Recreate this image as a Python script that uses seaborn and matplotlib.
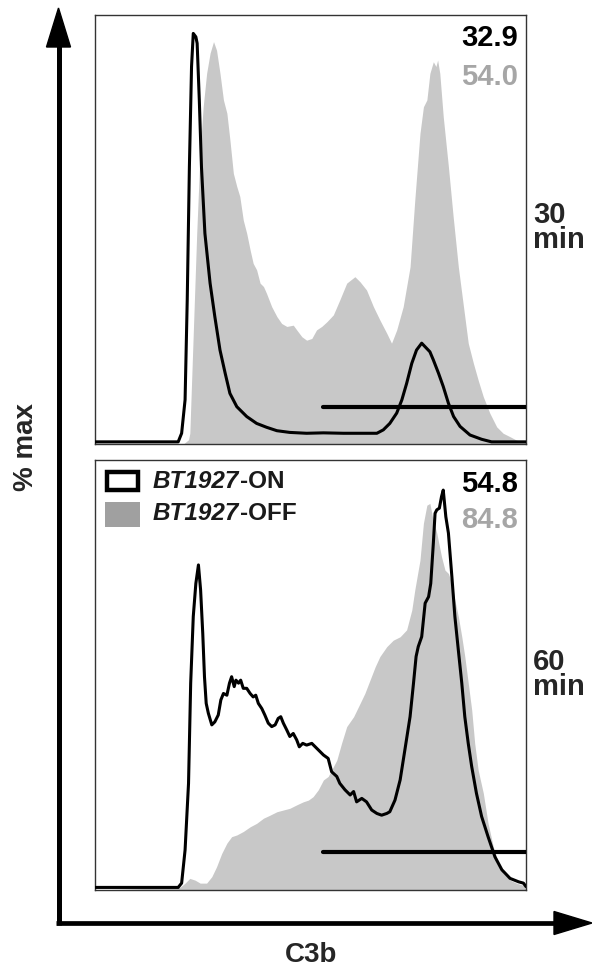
import numpy as np
import pandas as pd
import matplotlib
matplotlib.use("Agg")
import matplotlib.pyplot as plt
from matplotlib.patches import Polygon, Rectangle
import seaborn as sns

# ---------------- data (x: C3b, % of axis range; y: % max) ----------------
on30_x = [0, 19.3, 20.1, 20.9, 21.4, 21.9, 22.4, 22.8, 23.4, 23.7, 24.2, 24.7, 25.5, 26.7, 27.8,
          29.0, 30.2, 31.3, 32.9, 35.2, 37.5, 39.8, 42.2, 45.2, 49.1, 53.0, 57.6, 65.4, 66.9,
          68.4, 70.0, 71.2, 72.3, 73.5, 74.6, 75.8, 77.7, 78.5, 79.7, 80.8, 82.0, 83.2, 84.7,
          87.0, 89.7, 92.0, 100]
on30_y = [0.5, 0.5, 2.5, 10.3, 33.6, 64.6, 88.0, 95.7, 94.9, 93.4, 80.2, 64.6, 49.1, 37.5, 29.7,
          21.9, 16.5, 11.8, 8.7, 6.4, 4.8, 3.9, 3.1, 2.7, 2.5, 2.6, 2.5, 2.5, 3.3,
          4.8, 7.2, 10.3, 14.1, 18.8, 21.9, 23.5, 21.5, 19.6, 16.5, 13.4, 9.5, 6.4, 4.1,
          2.1, 1.1, 0.5, 0.5]

off30_x = [0, 20.5, 21.7, 22.0, 22.8, 23.6, 24.4, 25.1, 25.9, 26.7, 27.5, 28.2, 29.0, 29.8, 30.6,
           31.3, 32.1, 32.9, 33.6, 34.4, 35.2, 36.0, 36.7, 37.5, 38.3, 39.1, 39.8, 41.0, 42.2,
           43.3, 44.5, 46.0, 46.8, 48.0, 49.1, 50.3, 51.4, 52.6, 53.8, 55.3, 56.8, 58.4, 60.3,
           61.5, 63.0, 64.6, 66.1, 67.7, 68.8, 70.0, 71.5, 73.1, 74.2, 75.4, 76.2, 77.0, 77.7,
           78.5, 79.1, 79.5, 80.0, 80.8, 82.0, 83.1, 84.3, 85.5, 86.6, 87.8, 88.9, 90.1, 91.6,
           93.2, 94.7, 96.3, 97.8, 99.4, 100]
off30_y = [0, 0, 1.0, 2.5, 25.8, 49.1, 68.5, 78.6, 86.4, 91.1, 93.8, 91.8, 86.4, 80.2, 77.1,
           70.9, 63.1, 60.0, 57.7, 52.2, 49.1, 45.2, 42.1, 40.6, 37.5, 36.7, 35.1, 32.0, 29.7,
           28.1, 27.4, 27.7, 26.6, 25.0, 24.2, 24.6, 26.6, 27.4, 28.5, 30.1, 33.6, 37.5, 39.0,
           37.8, 35.9, 32.0, 28.9, 25.8, 23.5, 26.6, 32.0, 41.3, 56.9, 72.4, 78.6, 80.2, 86.4,
           89.1, 88.0, 89.5, 86.4, 76.3, 64.6, 53.0, 41.3, 32.0, 23.5, 18.8, 14.9, 11.0, 7.2,
           4.0, 2.5, 1.7, 0.9, 0.5, 0.3]

on60_x = [0, 19.3, 20.1, 20.9, 21.7, 22.2, 22.8, 23.4, 24.0, 24.5, 25.0, 25.4, 25.8, 26.3, 27.1,
          27.8, 28.6, 29.2, 29.8, 30.6, 31.2, 31.7, 32.3, 32.7, 33.3, 33.8, 34.4, 35.2, 36.0,
          36.7, 37.3, 37.9, 38.7, 39.4, 40.2, 41.0, 41.8, 42.5, 43.1, 43.7, 44.5, 45.2, 46.0,
          46.8, 47.4, 48.2, 49.1, 50.3, 51.4, 53.0, 54.1, 54.9, 56.1, 56.8, 58.0, 59.2, 60.0,
          60.7, 61.9, 63.0, 64.2, 65.4, 66.5, 67.7, 68.4, 69.6, 70.8, 71.9, 73.1, 73.9, 74.5,
          75.0, 75.8, 76.6, 77.4, 77.9, 78.5, 78.9, 79.3, 79.9, 80.4, 80.8, 81.4, 82.0, 82.8,
          83.5, 84.3, 85.1, 85.8, 86.6, 87.4, 88.5, 89.7, 91.2, 92.8, 94.4, 96.3, 98.3, 99.4, 100]
on60_y = [0.6, 0.6, 1.6, 9.3, 24.8, 48.1, 63.6, 71.3, 75.6, 69.8, 59.7, 49.6, 43.4, 41.1, 38.4,
          39.1, 40.7, 44.2, 45.7, 45.3, 48.1, 49.6, 47.3, 48.8, 48.1, 48.8, 46.9, 46.9, 45.7,
          44.9, 45.3, 43.4, 42.2, 40.7, 38.8, 38.0, 38.4, 39.9, 40.3, 38.8, 37.2, 35.7, 36.4,
          34.9, 33.3, 34.1, 33.7, 34.1, 33.0, 31.4, 30.6, 27.5, 26.4, 24.8, 23.3, 22.1, 22.9,
          20.5, 21.3, 20.5, 18.6, 17.8, 17.4, 17.8, 18.2, 20.9, 25.6, 32.6, 40.3, 48.1, 54.3,
          56.6, 58.9, 66.7, 68.2, 71.3, 80.6, 87.6, 88.4, 88.8, 91.5, 93.0, 86.8, 83.0, 72.9,
          63.6, 55.8, 48.1, 40.3, 34.1, 28.7, 22.5, 17.1, 12.4, 7.7, 4.7, 2.7, 1.9, 1.6, 0.8]

off60_x = [0, 19.7, 20.9, 22.0, 23.2, 24.4, 25.9, 27.1, 28.2, 29.4, 30.6, 31.7, 32.9, 34.4, 36.0,
           37.5, 39.1, 40.6, 42.2, 43.7, 45.2, 46.8, 48.3, 49.5, 50.6, 51.8, 53.0, 54.1, 54.9,
           56.1, 57.2, 58.4, 60.0, 61.5, 62.6, 63.8, 65.0, 66.1, 67.7, 69.2, 70.8, 72.3, 73.5,
           74.2, 75.4, 76.2, 77.0, 77.7, 78.3, 79.3, 80.4, 81.2, 82.0, 82.8, 83.5, 84.3, 85.1,
           85.8, 86.6, 87.4, 88.1, 88.9, 90.1, 91.2, 92.4, 93.6, 94.7, 96.3, 97.8, 99.0, 100]
off60_y = [0, 0.6, 1.6, 2.7, 2.3, 1.6, 1.6, 3.1, 5.4, 8.5, 10.9, 12.4, 12.8, 13.6, 14.7,
           15.5, 16.7, 17.4, 18.2, 18.6, 19.0, 19.8, 20.5, 20.9, 21.7, 23.3, 25.6, 26.4, 27.9,
           30.2, 34.1, 38.0, 40.3, 43.4, 45.7, 48.8, 51.9, 54.3, 56.6, 58.1, 58.9, 60.5, 65.1,
           69.8, 76.7, 85.3, 89.5, 89.9, 86.8, 83.0, 77.5, 74.4, 73.6, 71.3, 67.4, 63.6, 58.9,
           54.3, 48.1, 41.9, 34.1, 27.9, 22.5, 15.5, 10.1, 6.2, 3.9, 2.3, 1.6, 1.2, 1.0]

gate_x = [[52.9, 100], [52.8, 100]]
gate_y = [8.6, 8.9]
pct_on = ["32.9", "54.8"]
pct_off = ["54.0", "84.8"]
times = ["30\nmin", "60\nmin"]
legend_labels = [("BT1927", "-ON"), ("BT1927", "-OFF")]

# ---------------- style ----------------
sns.set_theme(style="white")
plt.rcParams["font.family"] = ["Liberation Sans", "DejaVu Sans"]
plt.rcParams["font.weight"] = "bold"

W, H = 592, 968
fig = plt.figure(figsize=(W / 100, H / 100), dpi=100)

GRAY_FILL = "#c8c8c8"
GRAY_TXT = "#a6a6a6"

# panel boxes in pixel coords: (left, top, right, bottom)
boxes = [(95, 15, 526, 444), (95, 460, 526, 890)]
datasets = [(on30_x, on30_y, off30_x, off30_y), (on60_x, on60_y, off60_x, off60_y)]

axes = []
for i, ((l, t, r, b), (ox, oy, fx, fy)) in enumerate(zip(boxes, datasets)):
    ax = fig.add_axes([l / W, 1 - b / H, (r - l) / W, (b - t) / H])
    axes.append(ax)
    ax.fill_between(fx, 0, fy, color=GRAY_FILL, linewidth=0, zorder=1)
    df = pd.DataFrame({"C3b": ox, "pct": oy})
    sns.lineplot(data=df, x="C3b", y="pct", ax=ax, color="black", linewidth=2.2,
                 sort=False, estimator=None, zorder=3)
    ax.plot(gate_x[i], [gate_y[i], gate_y[i]], color="black", linewidth=3.0,
            solid_capstyle="round", zorder=4)
    ax.set_xlim(0, 100)
    ax.set_ylim(0, 100)
    ax.set_xticks([])
    ax.set_yticks([])
    ax.set_xlabel("")
    ax.set_ylabel("")
    for s in ax.spines.values():
        s.set_visible(True)
        s.set_color("#333333")
        s.set_linewidth(1.0)

# overlay in pixel coords
ov = fig.add_axes([0, 0, 1, 1], zorder=10)
ov.set_xlim(0, W)
ov.set_ylim(H, 0)
ov.axis("off")
ov.patch.set_alpha(0)

# axis arrows
ov.plot([58.5, 58.5], [925, 40], color="black", linewidth=3.6, solid_capstyle="butt")
ov.add_patch(Polygon([[58.5, 8], [46.5, 47], [70.5, 47]], closed=True, color="black"))
ov.plot([56, 560], [923, 923], color="black", linewidth=3.4, solid_capstyle="butt")
ov.add_patch(Polygon([[592, 923], [554, 911.5], [554, 934.5]], closed=True, color="black"))

ov.text(26, 447, "% max", rotation=90, ha="center", va="center", fontsize=20, fontweight="bold")
ov.text(311.5, 962, "C3b", ha="center", va="baseline", fontsize=20, fontweight="bold")

# percentages
ov.text(518, 46.5, pct_on[0], ha="right", va="baseline", fontsize=21, fontweight="bold", color="black")
ov.text(518, 85, pct_off[0], ha="right", va="baseline", fontsize=21, fontweight="bold", color=GRAY_TXT)
ov.text(518, 492, pct_on[1], ha="right", va="baseline", fontsize=21, fontweight="bold", color="black")
ov.text(518, 528, pct_off[1], ha="right", va="baseline", fontsize=21, fontweight="bold", color=GRAY_TXT)

# time labels (two lines, tight spacing)
for bot_base, lab in zip([248, 695], times):
    ov.text(533, bot_base, lab, ha="left", va="baseline", fontsize=21, fontweight="bold",
            linespacing=0.85, multialignment="left")

# legend
ov.add_patch(Rectangle((107, 472), 31, 18, facecolor="white", edgecolor="black", linewidth=3.2))
ov.add_patch(Rectangle((105, 502), 35, 25, facecolor="#a0a0a0", edgecolor="none"))
fig.canvas.draw()
renderer = fig.canvas.get_renderer()
inv = ov.transData.inverted()
for (it, rest), base in zip(legend_labels, [488, 520]):
    t1 = ov.text(153, base, it, ha="left", va="baseline", fontsize=17.5, fontweight="bold",
                 style="italic", color="#1a1a1a")
    bb = t1.get_window_extent(renderer=renderer)
    xe = inv.transform((bb.x1, bb.y0))[0]
    ov.text(xe + 1, base, rest, ha="left", va="baseline", fontsize=17.5, fontweight="bold",
            color="#1a1a1a")

fig.savefig("out.png", dpi=100)
